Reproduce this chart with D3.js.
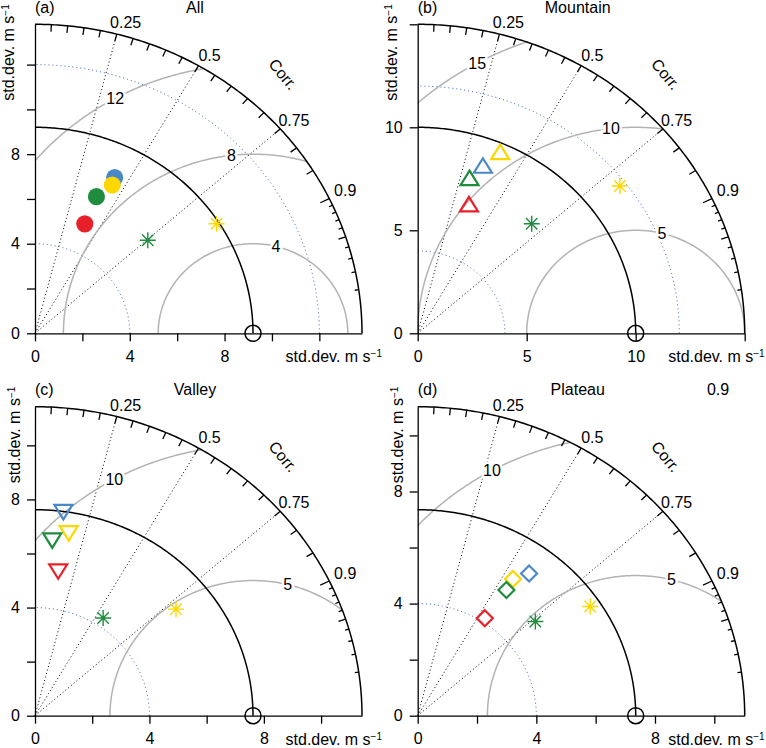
<!DOCTYPE html>
<html>
<head>
<meta charset="utf-8">
<script src="https://cdn.jsdelivr.net/npm/d3@7"></script>
<style>
  body { margin: 0; background: #fff; }
  svg { display: block; font-family: "Liberation Sans", Arial, sans-serif; }
</style>
</head>
<body>
<div id="chart"></div>
<script>
const width = 766, height = 748;

// panels
const panelTags = ["(a)", "(b)", "(c)", "(d)"];
const panelNames = ["All", "Mountain", "Valley", "Plateau"];
const refStd = [9.2, 10, 7.62, 7.35];
const rmsLevels = [[4, 8, 12], [5, 10, 15], [5, 10], [5, 10]];
const stdTicks = [[0, 2, 4, 6, 8, 10, 12], [0, 5, 10, 15], [0, 2, 4, 6, 8, 10], [0, 2, 4, 6, 8, 10]];
const stdTickLabels = [[0, 4, 8], [0, 5, 10], [0, 4, 8], [0, 4, 8]];
const stdCircles = [4, 12];
const corrLines = [0.25, 0.5, 0.75];
const corrLabels = ["0.25", "0.5", "0.75", "0.9"];
const corrTicks = [0.05, 0.1, 0.15, 0.2, 0.25, 0.3, 0.35, 0.4, 0.45, 0.5, 0.55, 0.6,
  0.65, 0.7, 0.75, 0.8, 0.85, 0.9, 0.91, 0.92, 0.93, 0.94, 0.95, 0.96, 0.97, 0.98, 0.99];

// series order: blue, yellow, green, red, green star, yellow star
const seriesNames = ["blue", "yellow", "green", "red", "green star", "yellow star"];
const stdAll = [7.73, 7.38, 6.63, 5.32, 6.32, 9.09];
const corrAll = [0.435, 0.442, 0.391, 0.395, 0.753, 0.843];
const stdMountain = [8.62, 9.53, 7.85, 6.64, 7.46, 11.71];
const corrMountain = [0.347, 0.397, 0.303, 0.354, 0.701, 0.792];
const stdValley = [7.64, 6.89, 6.55, 5.44, 4.33, 6.31];
const corrValley = [0.13, 0.171, 0.092, 0.149, 0.55, 0.781];
const stdPlateau = [6.31, 5.84, 5.39, 4.15, 5.2, 7.0];
const corrPlateau = [0.595, 0.55, 0.555, 0.545, 0.763, 0.831];

const stdByPanel = [stdAll, stdMountain, stdValley, stdPlateau];
const corrByPanel = [corrAll, corrMountain, corrValley, corrPlateau];

// layout / style
const origins = [[35, 333.3], [417.7, 333.3], [35, 715.7], [417.7, 715.7]];
const plotW = 327, plotH = 309;
const rmsLabelAngles = [[76, 96.5, 119], [76, 96.5, 119], [76, 119], [76, 119]];
const seriesColors = ["#4a89c8", "#fcd700", "#1f8c3e", "#e8202a", "#1f8c3e", "#fcd700"];
const panelShapes = ["circle", "up", "down", "diamond"];

const svg = d3.select("#chart")
  .append("svg")
  .attr("width", width)
  .attr("height", height);

function shapePath(shape) {
  if (shape === "up") return "M0,-8.5L9,6L-9,6Z";
  if (shape === "down") return "M0,8.5L9,-6L-9,-6Z";
  if (shape === "diamond") return "M0,-8L8,0L0,8L-8,0Z";
  return "M-8,0H8M0,-8V8M-5.7,-5.7L5.7,5.7M-5.7,5.7L5.7,-5.7"; // star
}

panelTags.forEach((tag, i) => {
  const [ox, oy] = origins[i];
  const ref = refStd[i], R = 1.5 * ref;
  const x = d3.scaleLinear().domain([0, R]).range([ox, ox + plotW]);
  const y = d3.scaleLinear().domain([0, R]).range([oy, oy - plotH]);
  const line = d3.line().x(d => x(d[0])).y(d => y(d[1]));
  const arc = (cx, r, a0, a1) => line(d3.range(0, 181).map(k => {
    const a = a0 + (a1 - a0) * k / 180;
    return [cx + r * Math.cos(a), r * Math.sin(a)];
  }));
  const g = svg.append("g");

  // std circles (blue dotted)
  g.append("g")
    .selectAll("path")
    .data(stdCircles.filter(s => s < R))
    .join("path")
    .attr("d", s => arc(0, s, 0, Math.PI / 2))
    .attr("fill", "none")
    .attr("stroke", "#3f5fc8")
    .attr("stroke-width", 1)
    .attr("stroke-dasharray", "1,3");

  // correlation rays (black dotted)
  g.append("g")
    .selectAll("path")
    .data(corrLines)
    .join("path")
    .attr("d", c => line([[0, 0], [R * c, R * Math.sqrt(1 - c * c)]]))
    .attr("stroke", "#000")
    .attr("stroke-width", 1)
    .attr("stroke-dasharray", "1,2.6");

  // RMS difference arcs (grey) centred on the reference
  const rms = rmsLevels[i].map((r, k) => {
    const c0 = (R * R - ref * ref - r * r) / (2 * ref * r);
    const a0 = Math.acos(Math.max(-1, Math.min(1, c0)));
    const a1 = r > ref ? Math.acos(-ref / r) : Math.PI;
    return {r, a0, a1, lab: rmsLabelAngles[i][k] * Math.PI / 180};
  }).filter(d => d.a0 < d.a1);

  g.append("g")
    .selectAll("path")
    .data(rms)
    .join("path")
    .attr("d", d => arc(ref, d.r, d.a0, d.a1))
    .attr("fill", "none")
    .attr("stroke", "#b3b3b3")
    .attr("stroke-width", 1.5);

  g.append("g")
    .selectAll("text")
    .data(rms)
    .join("text")
    .attr("x", d => x(ref + d.r * Math.cos(d.lab)))
    .attr("y", d => y(d.r * Math.sin(d.lab)))
    .attr("text-anchor", "middle")
    .attr("dominant-baseline", "central")
    .attr("font-size", 16)
    .attr("stroke", "#fff")
    .attr("stroke-width", 5)
    .attr("paint-order", "stroke")
    .text(d => d.r);

  // reference std arc
  g.append("path")
    .attr("d", arc(0, ref, 0, Math.PI / 2))
    .attr("fill", "none")
    .attr("stroke", "#000")
    .attr("stroke-width", 1.5);

  // axes
  const xAxis = d3.axisBottom(x)
    .tickValues(stdTicks[i])
    .tickSize(8)
    .tickSizeOuter(0)
    .tickPadding(9)
    .tickFormat(d => stdTickLabels[i].includes(d) ? d : "");
  const yAxis = d3.axisLeft(y)
    .tickValues(stdTicks[i])
    .tickSize(8)
    .tickSizeOuter(0)
    .tickPadding(7)
    .tickFormat(d => stdTickLabels[i].includes(d) ? d : "");

  [g.append("g").attr("transform", `translate(0,${oy})`).call(xAxis),
   g.append("g").attr("transform", `translate(${ox},0)`).call(yAxis)]
    .forEach(a => {
      a.attr("font-size", 16).attr("font-family", null);
      a.selectAll("line, path").attr("stroke", "#000").attr("stroke-width", 1.3);
      a.selectAll("text").attr("fill", "#000");
    });

  // outer arc and correlation ticks
  g.append("path")
    .attr("d", arc(0, R, 0, Math.PI / 2))
    .attr("fill", "none")
    .attr("stroke", "#000")
    .attr("stroke-width", 1.5);

  const pxPerUnit = plotW / R;
  g.append("g")
    .selectAll("path")
    .data(corrTicks)
    .join("path")
    .attr("d", c => {
      const len = (c === 0.9 ? 10 : (c > 0.9 && c !== 0.95) ? 4 : 7.5) / pxPerUnit;
      const s = Math.sqrt(1 - c * c);
      return line([[R * c, R * s], [(R - len) * c, (R - len) * s]]);
    })
    .attr("stroke", "#000")
    .attr("stroke-width", 1.3);

  g.append("g")
    .selectAll("text")
    .data(corrLabels)
    .join("text")
    .each(function (lab) {
      const c = +lab, th = Math.acos(c) * 180 / Math.PI;
      d3.select(this)
        .attr("x", x(R * c) + 19.5 - 0.14 * th)
        .attr("y", y(R * Math.sqrt(1 - c * c)) - 6 - 0.07 * th);
    })
    .attr("text-anchor", "middle")
    .attr("dominant-baseline", "central")
    .attr("font-size", 16)
    .text(d => d);

  g.append("text")
    .attr("transform", `translate(${ox + 248},${oy - 259}) rotate(50)`)
    .attr("text-anchor", "middle")
    .attr("dominant-baseline", "central")
    .attr("font-size", 16)
    .text("Corr.");

  // reference point
  g.append("circle")
    .attr("cx", x(ref))
    .attr("cy", y(0))
    .attr("r", 8)
    .attr("fill", "none")
    .attr("stroke", "#000")
    .attr("stroke-width", 1.5);

  // data markers
  const pts = stdByPanel[i].map((s, k) => ({
    name: seriesNames[k], s, c: corrByPanel[i][k], color: seriesColors[k],
    shape: k >= 4 ? "star" : panelShapes[i]
  }));
  g.append("g")
    .selectAll("path")
    .data(pts)
    .join("path")
    .attr("transform", d => `translate(${x(d.s * d.c)},${y(d.s * Math.sqrt(1 - d.c * d.c))})`)
    .attr("d", d => d.shape === "circle" ? d3.symbol(d3.symbolCircle, 230)() : shapePath(d.shape))
    .attr("fill", d => d.shape === "circle" ? d.color : "none")
    .attr("stroke", d => d.shape === "circle" ? "none" : d.color)
    .attr("stroke-width", d => d.shape === "star" ? 1.4 : 2.2);

  // titles and axis labels
  g.append("text")
    .attr("x", ox).attr("y", oy - 326)
    .attr("dominant-baseline", "central")
    .attr("font-size", 16)
    .text(tag);
  g.append("text")
    .attr("x", ox + 160).attr("y", oy - 326)
    .attr("text-anchor", "middle")
    .attr("dominant-baseline", "central")
    .attr("font-size", 16)
    .text(panelNames[i]);

  const xl = g.append("text")
    .attr("x", ox + 347).attr("y", oy + 29)
    .attr("text-anchor", "end")
    .attr("font-size", 16)
    .text("std.dev. m s");
  xl.append("tspan").attr("font-size", 10).attr("dy", -5).text("−1");

  const yl = g.append("text")
    .attr("transform", `translate(${ox - (i < 2 ? 21 : 15)},${oy - 329}) rotate(-90)`)
    .attr("text-anchor", "end")
    .attr("font-size", 16)
    .text("std.dev. m s");
  yl.append("tspan").attr("font-size", 10).attr("dy", -5).text("−1");
});

// stray label at the top right of panel (d)
svg.append("text")
  .attr("x", 718).attr("y", 389)
  .attr("text-anchor", "middle")
  .attr("dominant-baseline", "central")
  .attr("font-size", 16)
  .text("0.9");
</script>
</body>
</html>
